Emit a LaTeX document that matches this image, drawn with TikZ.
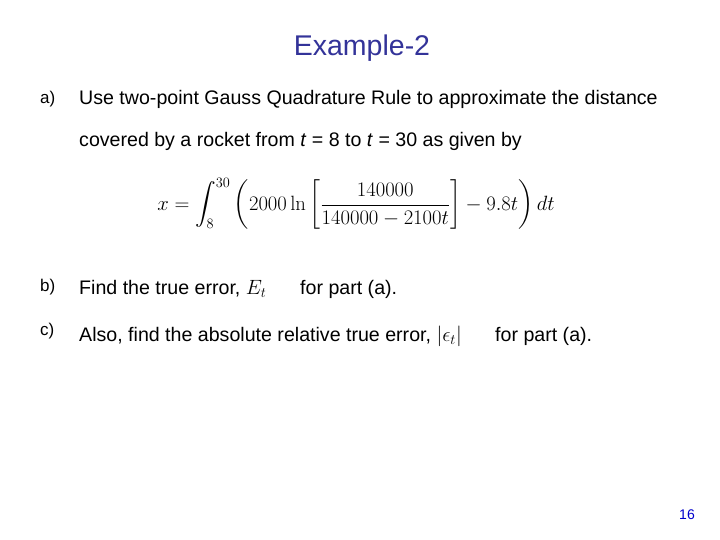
\documentclass[tikz,border=0pt]{standalone}
\usepackage{amsmath}
\usepackage[no-math]{fontspec}
\setmainfont{Liberation Sans}
\definecolor{titleblue}{RGB}{51,51,153}
\definecolor{numblue}{RGB}{0,0,204}
\begin{document}
\begin{tikzpicture}[x=1bp,y=-1bp,
  body/.style={anchor=west,inner sep=0pt,font=\fontsize{19.6bp}{22bp}\selectfont},
  lbl/.style={anchor=west,inner sep=0pt,font=\fontsize{17bp}{20bp}\selectfont}]
\useasboundingbox[fill=white] (0,0) rectangle (720,540);
\node[inner sep=0pt,text=titleblue,font=\fontsize{28.5bp}{30bp}\selectfont] (title) at (362,48) {Example-2};
\node[lbl] (la) at (40,99) {a)};
\node[body] (ta) at (79,99) {Use two-point Gauss Quadrature Rule to approximate the distance};
\node[body] (ta2) at (79,141) {covered by a rocket from \textit{t} = 8 to \textit{t} = 30 as given by};
\node[inner sep=0pt,font=\fontsize{19.5bp}{22bp}\selectfont] (eq) at (356,204)
 {$\displaystyle x=\int_{8}^{30}\left(2000\ln\left[\frac{140000}{140000-2100t}\right]-9.8t\right)dt$};
\node[lbl] (lb) at (40,287) {b)};
\node[body] (tb) at (79,289) {Find the true error, $E_t$};
\node[body] (tb2) at (300,289) {for part (a).};
\node[lbl] (lc) at (40,331) {c)};
\node[body] (tc) at (79,336) {Also, find the absolute relative true error, $|\epsilon_t|$};
\node[body] (tc2) at (495,336) {for part (a).};
\node[inner sep=0pt,text=numblue,font=\fontsize{14bp}{16bp}\selectfont] (pg) at (687,515) {16};
\end{tikzpicture}
\end{document}
